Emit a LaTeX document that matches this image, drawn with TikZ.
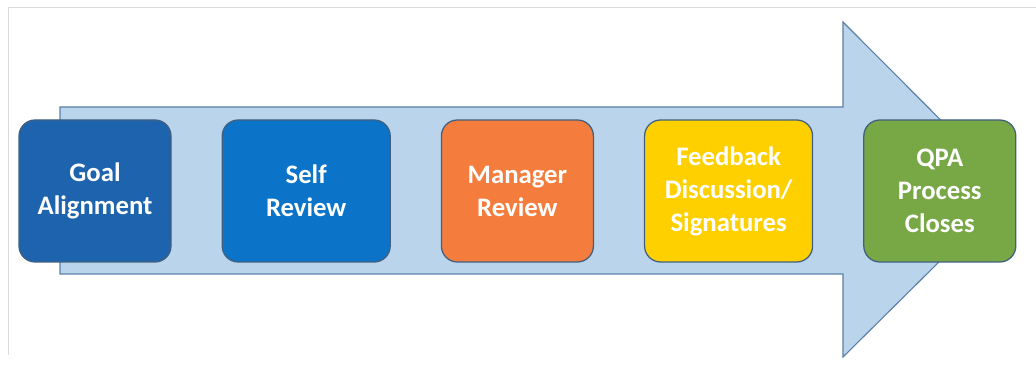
\documentclass[tikz,border=0pt]{standalone}
\usepackage{fontspec}
\setmainfont{Carlito}
\usepackage{tikz}
\usetikzlibrary{positioning}

\definecolor{shaftblue}{HTML}{BAD4EC}
\definecolor{edgeblue}{HTML}{5A80A8}
\definecolor{boxedge}{HTML}{41607F}
\definecolor{goalblue}{HTML}{1E63AD}
\definecolor{selfblue}{HTML}{0B74C8}
\definecolor{mgrorange}{HTML}{F47D3E}
\definecolor{fbyellow}{HTML}{FFD000}
\definecolor{qpagreen}{HTML}{77A845}

\begin{document}
\begin{tikzpicture}
		[node distance={52.8mm}, stage/.style = {draw=boxedge, line width=0.9pt, rounded corners=4mm,
		minimum width=38mm, minimum height=35.5mm, align=center, text=white,
		font=\fontsize{19}{23.5}\selectfont\bfseries}, wide/.style = {minimum width=42mm}]
	\useasboundingbox (0,0) rectangle (25.9,9.125);
	% faint frame
	\draw[black!15, line width=0.6pt] (0.22,0.25) -- (0.22,8.95) -- (25.9,8.95);
	% big arrow behind the stages
	\draw[edgeblue, fill=shaftblue, line width=0.8pt]
		(1.5,2.275) -- (1.5,6.45) -- (21.075,6.45) -- (21.075,8.575)
		-- (25.275,4.36) -- (21.075,0.2) -- (21.075,2.275) -- cycle;
	\node[stage, fill=goalblue] (1) at (2.375,4.35) {Goal\\Alignment};
	\node[stage, wide, fill=selfblue] (2) [right of = 1] {Self\\Review};
	\node[stage, fill=mgrorange] (3) [right of = 2] {Manager\\Review};
	\node[stage, wide, fill=fbyellow] (4) [right of = 3] {Feedback\\Discussion/\\Signatures};
	\node[stage, fill=qpagreen] (5) [right of = 4] {QPA\\Process\\Closes};
\end{tikzpicture}
\end{document}
